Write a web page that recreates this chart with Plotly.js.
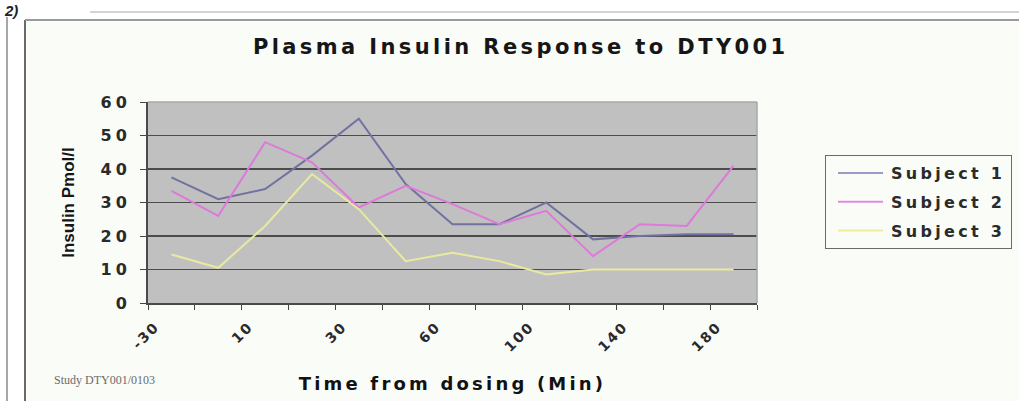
<!DOCTYPE html>
<html>
<head>
<meta charset="utf-8">
<script src="https://cdn.plot.ly/plotly-3.0.1.min.js"></script>
<style>
  html, body { margin: 0; padding: 0; background: #ffffff; }
  #chart { width: 1019px; height: 401px; }
  .gtitle { letter-spacing: 3.4px; }
  .xtitle { letter-spacing: 3.2px; }
  .legendtext { letter-spacing: 3.3px; }
  .ytick text { letter-spacing: 4px; }
  .xtick text { letter-spacing: 2px; }
</style>
</head>
<body>
<div id="chart"></div>
<script>
// ---- data ----
const categories = ['-30', '0', '10', '20', '30', '45', '60', '80', '100', '120', '140', '160', '180'];
const tickLabels = ['-30', '', '10', '', '30', '', '60', '', '100', '', '140', '', '180'];
const seriesNames = ['Subject 1', 'Subject 2', 'Subject 3'];
const subject1 = [37.5, 31, 34, 44, 55, 35.5, 23.5, 23.5, 30, 19, 20, 20.5, 20.5];
const subject2 = [33.5, 26, 48, 42, 28.5, 35, 29.5, 23.5, 27.5, 14, 23.5, 23, 41];
const subject3 = [14.5, 10.5, 23, 38.5, 28, 12.5, 15, 12.5, 8.5, 10, 10, 10, 10];
const yTicks = [0, 10, 20, 30, 40, 50, 60];

// ---- layout constants ----
const W = 1019, H = 401;
const M = { l: 148, r: 262, t: 102, b: 98 };
const PW = W - M.l - M.r, PH = H - M.t - M.b;
const px = x => (x - M.l) / PW;          // pixel x -> paper x
const py = y => (H - M.b - y) / PH;      // pixel y -> paper y

const colors = ['#7272a2', '#dc7ada', '#e9e9a0'];
const legendColors = ['#9a9ac8', '#e08ae0', '#eeee9a'];
const series = [subject1, subject2, subject3];

const traces = series.map((vals, i) => ({
  type: 'scatter',
  mode: 'lines',
  name: seriesNames[i],
  x: categories,
  y: vals,
  legendgroup: 'g' + i,
  line: { color: colors[i], width: 2 },
  hoverinfo: 'x+y+name'
}));

const shapes = [
  { type: 'rect', xref: 'paper', yref: 'paper', x0: px(0), x1: px(25), y0: py(H), y1: py(0), fillcolor: '#ffffff', line: { width: 0 }, layer: 'below' },
  { type: 'rect', xref: 'paper', yref: 'paper', x0: px(0), x1: px(W), y0: py(20), y1: py(0), fillcolor: '#ffffff', line: { width: 0 }, layer: 'below' },
  { type: 'line', xref: 'paper', yref: 'paper', x0: px(7), x1: px(7), y0: py(17), y1: py(H), line: { color: '#8a8a8a', width: 1.5 } },
  { type: 'line', xref: 'paper', yref: 'paper', x0: px(25), x1: px(25), y0: py(20), y1: py(H), line: { color: '#6a6a6a', width: 2 } },
  { type: 'line', xref: 'paper', yref: 'paper', x0: px(25), x1: px(W), y0: py(20), y1: py(20), line: { color: '#9a9a9a', width: 2 } },
  { type: 'line', xref: 'paper', yref: 'paper', x0: px(90), x1: px(W), y0: py(12), y1: py(12), line: { color: '#d4d4d4', width: 2 } },
  { type: 'line', xref: 'paper', yref: 'paper', x0: 0, x1: 1, y0: 1, y1: 1, line: { color: '#a8a8a8', width: 1.5 } },
  { type: 'line', xref: 'paper', yref: 'paper', x0: 1, x1: 1, y0: 0, y1: 1, line: { color: '#a8a8a8', width: 1.5 } }
];

const layout = {
  width: W, height: H,
  margin: M,
  paper_bgcolor: '#fafcf8',
  plot_bgcolor: '#c0c0c0',
  showlegend: true,
  title: {
    text: 'Plasma Insulin Response to DTY001',
    font: { family: 'DejaVu Sans', size: 21, color: '#161616', weight: 'bold' },
    xref: 'container', yref: 'container',
    x: 0.511, xanchor: 'center',
    y: 1 - 47 / H, yanchor: 'middle'
  },
  xaxis: {
    type: 'category',
    categoryorder: 'array',
    categoryarray: categories,
    range: [-0.5, categories.length - 0.5],
    tickmode: 'array',
    tickvals: categories,
    ticktext: tickLabels,
    tickson: 'boundaries',
    ticks: 'outside', ticklen: 5, tickwidth: 1, tickcolor: '#444',
    tickangle: -45,
    ticklabelshift: -16,
    ticklabelstandoff: 8,
    tickfont: { family: 'DejaVu Sans', size: 14, color: '#2a2a2a', weight: 'bold' },
    showline: true, linecolor: '#4a4a4a', linewidth: 2,
    showgrid: false, zeroline: false,
    fixedrange: true,
    title: {
      text: 'Time from dosing (Min)',
      font: { family: 'DejaVu Sans', size: 18, color: '#121212', weight: 'bold' },
      standoff: 24
    }
  },
  yaxis: {
    range: [0, 60],
    tickmode: 'array',
    tickvals: yTicks,
    ticktext: yTicks.map(String),
    ticks: 'outside', ticklen: 6, tickwidth: 1, tickcolor: '#444',
    ticklabelstandoff: 6,
    tickfont: { family: 'DejaVu Sans', size: 16, color: '#2a2a2a', weight: 'bold' },
    showline: true, linecolor: '#4a4a4a', linewidth: 2,
    showgrid: true, gridcolor: '#4c4c4c', gridwidth: 1.5,
    zeroline: false,
    fixedrange: true,
    title: {
      text: 'Insulin Pmol/l',
      font: { family: 'Liberation Sans', size: 17, color: '#161616', weight: 'bold' },
      standoff: 22
    }
  },
  legend: {
    xref: 'container', yref: 'container',
    x: 825 / W, xanchor: 'left',
    y: 1 - 155 / H, yanchor: 'top',
    bgcolor: 'rgba(0,0,0,0)',
    bordercolor: '#6a6a6a', borderwidth: 1,
    font: { family: 'DejaVu Sans', size: 16, color: '#2a2a2a', weight: 'bold' },
    traceorder: 'grouped',
    tracegroupgap: 5,
    itemwidth: 55
  },
  shapes: shapes,
  annotations: [
    {
      text: 'Study DTY001/0103', showarrow: false,
      xref: 'paper', yref: 'paper', x: px(52), xanchor: 'left', y: py(380), yanchor: 'middle',
      font: { family: 'Liberation Serif', size: 12, color: '#6a6a6a' }
    },
    {
      text: '<i>2)</i>', showarrow: false,
      xref: 'paper', yref: 'paper', x: px(2), xanchor: 'left', y: py(0), yanchor: 'top',
      font: { family: 'Liberation Sans', size: 15, color: '#222222', weight: 'bold' }
    }
  ]
};

Plotly.newPlot('chart', traces, layout, { displayModeBar: false, staticPlot: true }).then(gd => {
  // legend samples: lighter colours and longer strokes, as in the reference
  const legendLines = gd.querySelectorAll('.legend .traces .js-line');
  legendLines.forEach((el, i) => {
    if (legendColors[i]) el.style.stroke = legendColors[i];
    el.setAttribute('d', 'M12,0h45');
  });
});
</script>
</body>
</html>
